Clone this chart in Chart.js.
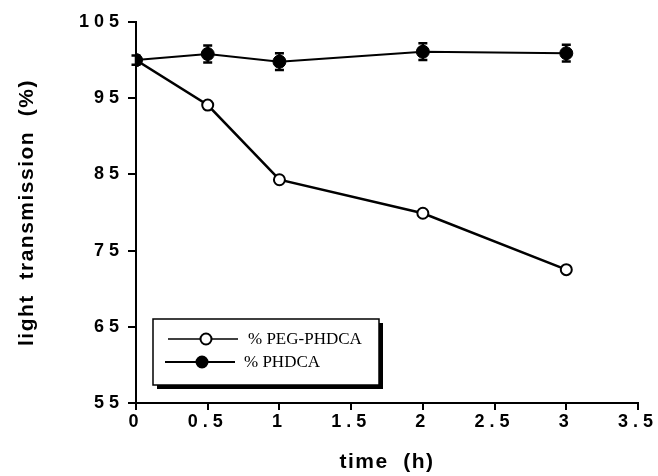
<!DOCTYPE html>
<html><head><meta charset="utf-8">
<script src="https://cdn.jsdelivr.net/npm/chart.js@4.4.1/dist/chart.umd.min.js"></script>
<style>html,body{margin:0;padding:0;background:#fff;overflow:hidden;} #wrap{width:658px;height:476px;}</style>
</head><body><div id="wrap"><canvas id="c" width="658" height="476"></canvas></div>
<script>
const timeHours = [0, 0.5, 1, 2, 3];
const pegPhdca = [100, 94.1, 84.3, 79.9, 72.5];
const phdca = [100, 100.8, 99.8, 101.1, 100.9];
const phdcaErr = [0.6, 1.1, 1.1, 1.1, 1.1];
const xTicks = [0, 0.5, 1, 1.5, 2, 2.5, 3, 3.5];
const yTicks = [55, 65, 75, 85, 95, 105];
const seriesNames = ['% PEG-PHDCA', '% PHDCA'];
const xTitle = 'time  (h)';
const yTitle = 'light  transmission  (%)';

const toXY = (ys) => timeHours.map((x, i) => ({x: x, y: ys[i]}));

const spacingPlugin = {
  id: 'spacing',
  beforeDraw(chart) { chart.ctx.letterSpacing = '1.5px'; },
  afterDatasetsDraw(chart) { chart.ctx.letterSpacing = '5px'; },
  afterDraw(chart) { chart.ctx.letterSpacing = '0px'; }
};

const errorBarPlugin = {
  id: 'errorBars',
  beforeDatasetsDraw(chart) {
    const ctx = chart.ctx, xs = chart.scales.x, ys = chart.scales.y;
    ctx.save();
    ctx.strokeStyle = '#000';
    ctx.lineWidth = 2.5;
    timeHours.forEach((t, i) => {
      const px = xs.getPixelForValue(t);
      const top = ys.getPixelForValue(phdca[i] + phdcaErr[i]);
      const bot = ys.getPixelForValue(phdca[i] - phdcaErr[i]);
      ctx.beginPath();
      ctx.moveTo(px, top); ctx.lineTo(px, bot);
      ctx.moveTo(px - 4.5, top); ctx.lineTo(px + 4.5, top);
      ctx.moveTo(px - 4.5, bot); ctx.lineTo(px + 4.5, bot);
      ctx.stroke();
    });
    ctx.restore();
  }
};

const boxLegendPlugin = {
  id: 'boxLegend',
  afterDraw(chart) {
    const ctx = chart.ctx;
    ctx.save();
    ctx.letterSpacing = '0px';
    const lx = 153, ly = 319, lw = 226, lh = 66;
    ctx.fillStyle = '#000';
    ctx.fillRect(lx + 4, ly + 4, lw, lh);
    ctx.fillStyle = '#fff';
    ctx.fillRect(lx, ly, lw, lh);
    ctx.strokeStyle = '#000';
    ctx.lineWidth = 1.5;
    ctx.strokeRect(lx, ly, lw, lh);
    const rows = [
      {y: 339, x0: 168, x1: 238, mx: 206, tx: 248, lw: 1.6},
      {y: 362, x0: 165, x1: 235, mx: 202, tx: 244, lw: 2}
    ];
    chart.data.datasets.forEach((ds, i) => {
      const r = rows[i];
      ctx.strokeStyle = '#000';
      ctx.lineWidth = r.lw;
      ctx.beginPath(); ctx.moveTo(r.x0, r.y); ctx.lineTo(r.x1, r.y); ctx.stroke();
      ctx.beginPath(); ctx.arc(r.mx, r.y, 5.5, 0, Math.PI * 2);
      ctx.fillStyle = ds.pointBackgroundColor; ctx.fill();
      ctx.lineWidth = 2; ctx.stroke();
      ctx.fillStyle = '#000';
      ctx.font = '17px "Liberation Serif", "Times New Roman", serif';
      ctx.textBaseline = 'middle';
      ctx.textAlign = 'left';
      ctx.fillText(ds.label, r.tx, r.y + 1);
    });
    ctx.restore();
  }
};

const tickFont = {family: '"Liberation Sans", Arial, sans-serif', weight: 'bold', size: 18};
const titleFont = {family: '"Liberation Sans", Arial, sans-serif', weight: 'bold', size: 21};

new Chart(document.getElementById('c'), {
  type: 'line',
  data: {
    datasets: [
      {
        label: seriesNames[0],
        data: toXY(pegPhdca),
        borderColor: '#000', borderWidth: 2.5,
        pointRadius: 5.5, pointBorderWidth: 2,
        pointBackgroundColor: '#fff', pointBorderColor: '#000',
        fill: false, tension: 0, order: 1
      },
      {
        label: seriesNames[1],
        data: toXY(phdca),
        borderColor: '#000', borderWidth: 2,
        pointRadius: 6.5, pointBorderWidth: 1,
        pointBackgroundColor: '#000', pointBorderColor: '#000',
        fill: false, tension: 0, order: 0
      }
    ]
  },
  options: {
    responsive: false,
    devicePixelRatio: 1,
    animation: false,
    layout: {padding: {top: 22, right: 20, left: 0, bottom: 0}},
    plugins: {legend: {display: false}, tooltip: {enabled: false}, title: {display: false}},
    scales: {
      x: {
        type: 'linear', min: 0, max: 3.5,
        afterBuildTicks: (s) => { s.ticks = xTicks.map(v => ({value: v})); },
        afterFit: (s) => { s.height = 73; },
        border: {display: true, color: '#000', width: 2},
        grid: {display: true, drawOnChartArea: false, drawTicks: true, tickLength: 7, color: '#000', lineWidth: 2},
        ticks: {font: tickFont, color: '#000', padding: 1, maxRotation: 0, autoSkip: false, z: 1,
                callback: (v) => String(v)},
        title: {display: true, text: xTitle, font: titleFont, color: '#000', padding: {top: 0, bottom: 1}}
      },
      y: {
        type: 'linear', min: 55, max: 105,
        afterBuildTicks: (s) => { s.ticks = yTicks.map(v => ({value: v})); },
        afterFit: (s) => { s.width = 136; },
        border: {display: true, color: '#000', width: 2},
        grid: {display: true, drawOnChartArea: false, drawTicks: true, tickLength: 8, color: '#000', lineWidth: 2},
        ticks: {font: tickFont, color: '#000', padding: 4, z: 1, callback: (v) => String(v)},
        title: {display: true, text: yTitle, font: titleFont, color: '#000', padding: {top: 15, bottom: 0}}
      }
    }
  },
  plugins: [spacingPlugin, errorBarPlugin, boxLegendPlugin]
});
</script>
</body></html>
